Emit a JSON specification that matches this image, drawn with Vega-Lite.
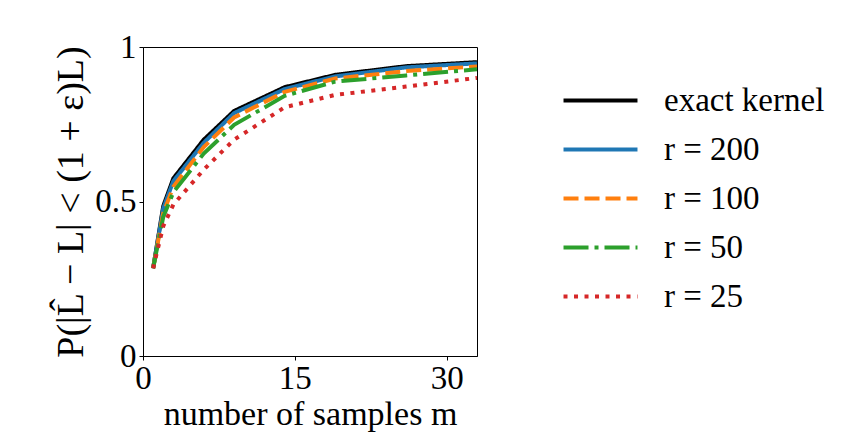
{
  "$schema": "https://vega.github.io/schema/vega-lite/v6.json",
  "width": 334,
  "height": 309,
  "autosize": {"type": "none"},
  "padding": {"left": 143, "top": 47, "right": 387, "bottom": 76},
  "background": "white",
  "config": {
    "view": {"stroke": "black", "strokeWidth": 1},
    "font": "Liberation Serif",
    "axis": {
      "grid": false,
      "domainColor": "black",
      "tickColor": "black",
      "tickSize": 4,
      "labelColor": "black",
      "titleColor": "black",
      "labelFont": "Liberation Serif",
      "titleFont": "Liberation Serif",
      "labelFontSize": 33,
      "titleFontSize": 34,
      "titleFontWeight": "normal",
      "labelFlush": false
    },
    "legend": {
      "labelFont": "Liberation Serif",
      "labelColor": "black"
    }
  },
  "data": {
    "values": [
      {"m": 1, "series": "exact kernel", "p": 0.284},
      {"m": 2, "series": "exact kernel", "p": 0.485},
      {"m": 3, "series": "exact kernel", "p": 0.575},
      {"m": 6, "series": "exact kernel", "p": 0.700},
      {"m": 9, "series": "exact kernel", "p": 0.793},
      {"m": 14, "series": "exact kernel", "p": 0.870},
      {"m": 19, "series": "exact kernel", "p": 0.910},
      {"m": 26, "series": "exact kernel", "p": 0.938},
      {"m": 33, "series": "exact kernel", "p": 0.951},
      {"m": 1, "series": "r = 200", "p": 0.284},
      {"m": 2, "series": "r = 200", "p": 0.478},
      {"m": 3, "series": "r = 200", "p": 0.566},
      {"m": 6, "series": "r = 200", "p": 0.690},
      {"m": 9, "series": "r = 200", "p": 0.786},
      {"m": 14, "series": "r = 200", "p": 0.864},
      {"m": 19, "series": "r = 200", "p": 0.905},
      {"m": 26, "series": "r = 200", "p": 0.934},
      {"m": 33, "series": "r = 200", "p": 0.947},
      {"m": 1, "series": "r = 100", "p": 0.284},
      {"m": 2, "series": "r = 100", "p": 0.462},
      {"m": 3, "series": "r = 100", "p": 0.548},
      {"m": 6, "series": "r = 100", "p": 0.676},
      {"m": 9, "series": "r = 100", "p": 0.772},
      {"m": 14, "series": "r = 100", "p": 0.855},
      {"m": 19, "series": "r = 100", "p": 0.898},
      {"m": 26, "series": "r = 100", "p": 0.922},
      {"m": 33, "series": "r = 100", "p": 0.937},
      {"m": 1, "series": "r = 50", "p": 0.284},
      {"m": 2, "series": "r = 50", "p": 0.450},
      {"m": 3, "series": "r = 50", "p": 0.530},
      {"m": 6, "series": "r = 50", "p": 0.655},
      {"m": 9, "series": "r = 50", "p": 0.748},
      {"m": 14, "series": "r = 50", "p": 0.842},
      {"m": 19, "series": "r = 50", "p": 0.888},
      {"m": 26, "series": "r = 50", "p": 0.908},
      {"m": 33, "series": "r = 50", "p": 0.928},
      {"m": 1, "series": "r = 25", "p": 0.284},
      {"m": 2, "series": "r = 25", "p": 0.420},
      {"m": 3, "series": "r = 25", "p": 0.490},
      {"m": 6, "series": "r = 25", "p": 0.603},
      {"m": 9, "series": "r = 25", "p": 0.700},
      {"m": 14, "series": "r = 25", "p": 0.805},
      {"m": 19, "series": "r = 25", "p": 0.845},
      {"m": 26, "series": "r = 25", "p": 0.872},
      {"m": 33, "series": "r = 25", "p": 0.900}
    ]
  },
  "mark": {"type": "line", "strokeWidth": 4, "clip": true},
  "encoding": {
    "x": {
      "field": "m",
      "type": "quantitative",
      "title": "number of samples m",
      "scale": {"domain": [0, 33], "nice": false, "zero": false},
      "axis": {"values": [0, 15, 30], "format": "d", "labelPadding": 2, "titlePadding": 2}
    },
    "y": {
      "field": "p",
      "type": "quantitative",
      "title": "P(|L̂ − L| < (1 + ε)L)",
      "scale": {"domain": [0, 1], "nice": false},
      "axis": {"values": [0, 0.5, 1], "format": "~g", "labelPadding": 3, "titlePadding": 4, "titleFontSize": 38}
    },
    "color": {
      "field": "series",
      "type": "nominal",
      "sort": null,
      "scale": {
        "domain": ["exact kernel", "r = 200", "r = 100", "r = 50", "r = 25"],
        "range": ["black", "#1f77b4", "#ff7f0e", "#2ca02c", "#d62728"]
      },
      "legend": {
        "title": null,
        "orient": "none",
        "legendX": 441,
        "legendY": 37,
        "symbolType": "M-4,0H4",
        "symbolSize": 342,
        "symbolStrokeWidth": 4,
        "labelFontSize": 33,
        "labelOffset": 47,
        "labelLimit": 0,
        "rowPadding": 15
      }
    },
    "strokeDash": {
      "field": "series",
      "type": "nominal",
      "sort": null,
      "scale": {
        "domain": ["exact kernel", "r = 200", "r = 100", "r = 50", "r = 25"],
        "range": [[1, 0], [1, 0], [15, 6], [25, 6, 4, 6], [4, 6.5]]
      },
      "legend": null
    }
  }
}
